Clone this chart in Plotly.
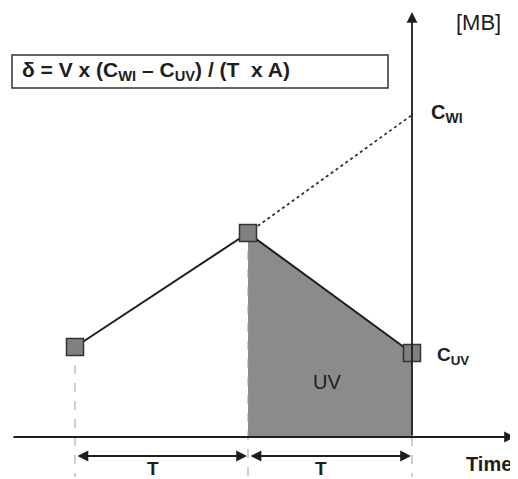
import plotly.graph_objects as go

# sampling times (pixel-like units) and measured concentrations
time_pts = [75, 248, 412]
conc = [90, 204, 84]
c_wi = 322          # concentration without irradiation (extrapolated)
y_top = 425         # top of concentration axis
x_lo, x_hi = 12, 515

dark = '#1e1e1e'
grey = '#8b8b8b'
fnt = 'Liberation Sans, Arial, sans-serif'

fig = go.Figure()

# shaded UV area
fig.add_trace(go.Scatter(x=[time_pts[1], time_pts[1], time_pts[2], time_pts[2]],
                         y=[0, conc[1], conc[2], 0], fill='toself', fillcolor=grey,
                         mode='lines', line=dict(width=0), showlegend=False, hoverinfo='skip'))

# dashed verticals below the samples
starts = [conc[0], conc[1], 0]
for t, s in zip(time_pts, starts):
  fig.add_trace(go.Scatter(x=[t, t], y=[s, -40], mode='lines',
                           line=dict(color='#a0a0a0', width=1, dash='dash'),
                           showlegend=False, hoverinfo='skip'))

# dotted extrapolation
fig.add_trace(go.Scatter(x=[time_pts[1], time_pts[2]], y=[conc[1], c_wi], mode='lines',
                         line=dict(color='#333', width=1.8, dash='dot'), showlegend=False, hoverinfo='skip'))

# measured line
fig.add_trace(go.Scatter(x=time_pts, y=conc, mode='lines', line=dict(color=dark, width=2),
                         showlegend=False, hoverinfo='skip'))

# axes
annos = []
annos.append(dict(x=time_pts[2], y=y_top, ax=time_pts[2], ay=0, xref='x', yref='y', axref='x', ayref='y',
                  text='', showarrow=True, arrowhead=2, arrowsize=1.2, arrowwidth=1.8, arrowcolor=dark))
annos.append(dict(x=x_hi, y=0, ax=x_lo, ay=0, xref='x', yref='y', axref='x', ayref='y',
                  text='', showarrow=True, arrowhead=2, arrowsize=1.2, arrowwidth=1.8, arrowcolor=dark))
# T intervals
for a, b in [(time_pts[0], time_pts[1]), (time_pts[1], time_pts[2])]:
  annos.append(dict(x=b - 1, y=-19, ax=a + 1, ay=-19, xref='x', yref='y', axref='x', ayref='y',
                    text='', showarrow=True, arrowhead=2, startarrowhead=2, arrowside='end+start',
                    arrowsize=1.2, arrowwidth=1.8, arrowcolor=dark))
  annos.append(dict(x=(a + b) / 2 - 9, y=-31, text='<b>T</b>', showarrow=False,
                    font=dict(family=fnt, size=19, color=dark)))

annos.append(dict(x=489, y=-27, text='<b>Time</b>', showarrow=False, font=dict(family=fnt, size=20, color=dark)))
annos.append(dict(x=478, y=415, text='[MB]', showarrow=False, font=dict(family=fnt, size=22, color=dark)))
annos.append(dict(x=429, y=324, text='<b>C<sub>WI</sub></b>', showarrow=False, xanchor='left',
                  font=dict(family=fnt, size=20, color=dark)))
annos.append(dict(x=435, y=81, text='<b>C<sub>UV</sub></b>', showarrow=False, xanchor='left',
                  font=dict(family=fnt, size=19, color=dark)))
annos.append(dict(x=327, y=55, text='UV', showarrow=False, font=dict(family=fnt, size=20, color=dark)))
annos.append(dict(x=20, y=366, xanchor='left',
                  text='<b>\u03b4 = V x (C<sub>WI</sub> \u2013 C<sub>UV</sub>) / (T\u00a0\u00a0x A)</b>',
                  showarrow=False, font=dict(family=fnt, size=21, color=dark)))

shapes = [dict(type='rect', x0=12, x1=388, y0=349, y1=382, xref='x', yref='y',
               line=dict(color='#333', width=1.5), fillcolor='rgba(0,0,0,0)')]

# sample markers
fig.add_trace(go.Scatter(x=time_pts, y=conc, mode='markers',
                         marker=dict(symbol='square', size=17, color='#808080', line=dict(color='#333', width=1.5)),
                         showlegend=False, hovertemplate='%{x} - %{y}<extra></extra>'))

# ranges shifted by the page's 8px body margin
fig.update_layout(width=518, height=479, margin=dict(l=0, r=0, t=0, b=0),
                  plot_bgcolor='white', paper_bgcolor='white',
                  xaxis=dict(range=[8, 526], visible=False, fixedrange=True),
                  yaxis=dict(range=[-50, 429], visible=False, fixedrange=True),
                  annotations=annos, shapes=shapes)

fig.write_html("out.html")
